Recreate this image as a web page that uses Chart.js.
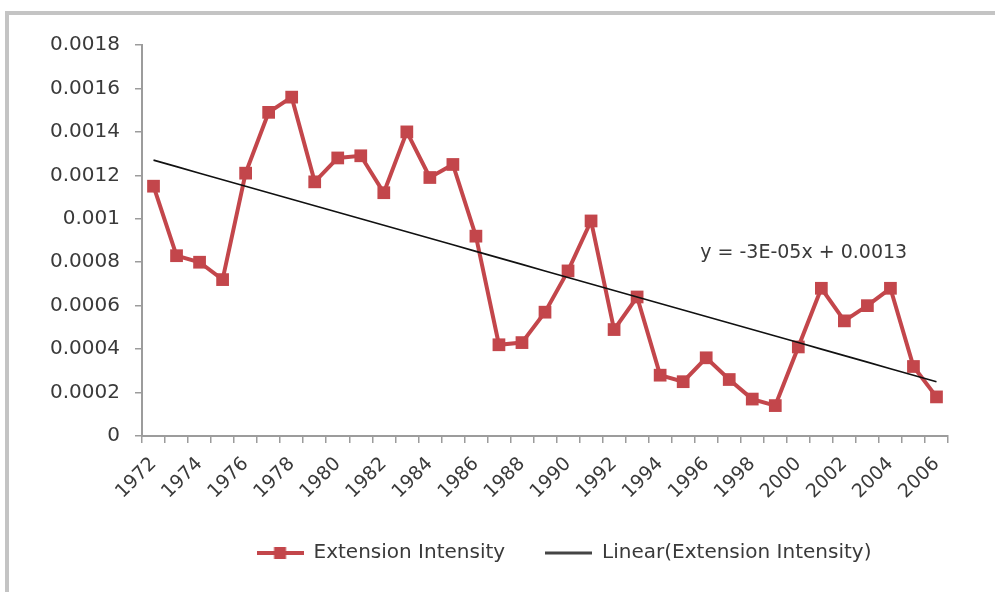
<!DOCTYPE html>
<html>
<head>
<meta charset="utf-8">
<script src="https://cdn.jsdelivr.net/npm/chart.js@4/dist/chart.umd.min.js"></script>
<style>
  html, body { margin: 0; padding: 0; background: #ffffff; overflow: hidden; }
  canvas { display: block; }
</style>
</head>
<body>
<canvas id="chart" width="1000" height="592"></canvas>
<script>
// Years on the category axis
const years = [
  '1972','1973','1974','1975','1976','1977','1978','1979','1980','1981',
  '1982','1983','1984','1985','1986','1987','1988','1989','1990','1991',
  '1992','1993','1994','1995','1996','1997','1998','1999','2000','2001',
  '2002','2003','2004','2005','2006'
];

// Extension intensity per year
const extensionIntensity = [
  0.00115, 0.00083, 0.00080, 0.00072, 0.00121, 0.00149, 0.00156, 0.00117, 0.00128, 0.00129,
  0.00112, 0.00140, 0.00119, 0.00125, 0.00092, 0.00042, 0.00043, 0.00057, 0.00076, 0.00099,
  0.00049, 0.00064, 0.00028, 0.00025, 0.00036, 0.00026, 0.00017, 0.00014, 0.00041, 0.00068,
  0.00053, 0.00060, 0.00068, 0.00032, 0.00018
];

// Linear trend: y = slope * x + intercept, x = 1 for the first year
const trendSlope = -0.00003;
const trendIntercept = 0.0013;
const trendLabel = 'y = -3E-05x + 0.0013';
const trendValues = years.map((_, i) => trendIntercept + trendSlope * (i + 1));

// Value axis
const yMin = 0;
const yMax = 0.0018;
const yStep = 0.0002;

const RED = '#c3464b';
const AXIS = '#9c9c9c';
const TEXT = '#3a3a3a';
const FONT = 'DejaVu Sans';

function legendIcon(color, lineWidth, withSquare) {
  const c = document.createElement('canvas');
  c.width = 47; c.height = 14;
  const g = c.getContext('2d');
  g.strokeStyle = color;
  g.lineWidth = lineWidth;
  g.beginPath(); g.moveTo(0, 7); g.lineTo(47, 7); g.stroke();
  if (withSquare) { g.fillStyle = color; g.fillRect(17.5, 1, 12, 12); }
  return c;
}
// Icons indexed by dataset index
const legendIcons = [legendIcon(RED, 4, true), legendIcon('#444444', 3, false)];

// White background and a grey frame along the top and left edges
const framePlugin = {
  id: 'frame',
  beforeDraw(chart) {
    const { ctx, width, height } = chart;
    ctx.save();
    ctx.fillStyle = '#ffffff';
    ctx.fillRect(0, 0, width, height);
    ctx.fillStyle = '#c4c4c4';
    ctx.fillRect(5, 11, width - 10, 4);
    ctx.fillRect(5, 11, 4, height - 11);
    ctx.restore();
  }
};

const trendLabelPlugin = {
  id: 'trendLabel',
  afterDatasetsDraw(chart) {
    const { ctx, scales: { x, y } } = chart;
    ctx.save();
    ctx.font = '19px "' + FONT + '"';
    ctx.fillStyle = TEXT;
    ctx.textAlign = 'left';
    ctx.textBaseline = 'alphabetic';
    ctx.fillText(trendLabel, x.getPixelForValue(24) - 6, y.getPixelForValue(0.00082));
    ctx.restore();
  }
};

// Legend sits centred under the right part of the plot
const legendShiftPlugin = {
  id: 'legendShift',
  afterLayout(chart) {
    const lg = chart.legend;
    if (lg) { lg.left += 90; lg.right += 90; }
  }
};

Chart.defaults.font.family = FONT;
Chart.defaults.font.size = 20;
Chart.defaults.color = TEXT;

new Chart(document.getElementById('chart'), {
  type: 'line',
  data: {
    labels: years,
    datasets: [
      {
        label: 'Extension Intensity',
        data: extensionIntensity,
        borderColor: RED,
        backgroundColor: RED,
        borderWidth: 4,
        pointStyle: 'rect',
        pointRadius: 9,
        pointBorderWidth: 0,
        tension: 0,
        order: 2
      },
      {
        label: 'Linear(Extension Intensity)',
        data: trendValues,
        borderColor: '#111111',
        backgroundColor: '#111111',
        borderWidth: 1.6,
        pointRadius: 0,
        tension: 0,
        order: 1
      }
    ]
  },
  options: {
    responsive: false,
    animation: false,
    events: [],
    layout: { padding: { left: 0, top: 45, right: 52, bottom: 19 } },
    scales: {
      x: {
        type: 'category',
        offset: true,
        grid: { display: true, drawOnChartArea: false, offset: true, color: AXIS, tickLength: 7, lineWidth: 1.5 },
        border: { display: true, color: AXIS, width: 2 },
        ticks: {
          autoSkip: false,
          maxRotation: 45,
          minRotation: 45,
          padding: 10,
          font: { size: 19 },
          callback(value, index) { return index % 2 === 0 ? years[index] : ''; }
        },
        afterFit(scale) { scale.height = 67; }
      },
      y: {
        min: yMin,
        max: yMax,
        grid: { display: true, drawOnChartArea: false, color: AXIS, tickLength: 7, lineWidth: 1.5 },
        border: { display: true, color: AXIS, width: 2 },
        ticks: {
          stepSize: yStep,
          padding: 15,
          font: { size: 20 },
          callback(value) { return String(Number(value.toFixed(4))); }
        },
        afterFit(scale) { scale.width = 142; }
      }
    },
    plugins: {
      tooltip: { enabled: false },
      legend: {
        position: 'bottom',
        labels: {
          usePointStyle: true,
          pointStyleWidth: 47,
          padding: 40,
          font: { size: 20 },
          color: TEXT,
          sort(a, b) { return a.datasetIndex - b.datasetIndex; },
          generateLabels(chart) {
            const items = Chart.defaults.plugins.legend.labels.generateLabels(chart);
            items.forEach((it) => { it.pointStyle = legendIcons[it.datasetIndex]; });
            return items;
          }
        }
      }
    }
  },
  plugins: [framePlugin, trendLabelPlugin, legendShiftPlugin]
});
</script>
</body>
</html>
